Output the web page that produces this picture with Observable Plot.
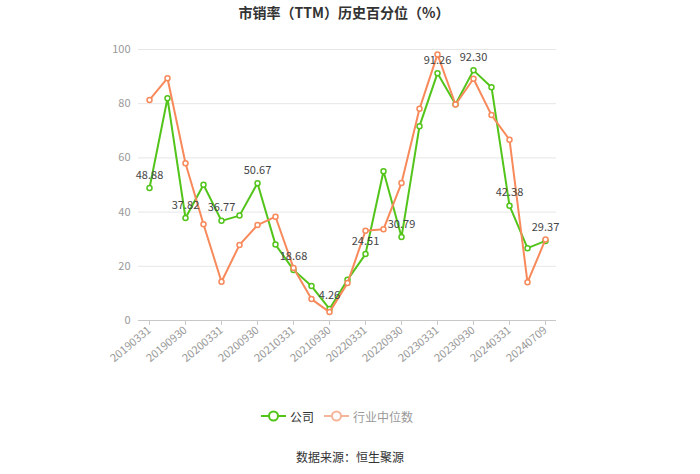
<!DOCTYPE html>
<html>
<head>
<meta charset="utf-8">
<script src="https://cdn.jsdelivr.net/npm/d3@7"></script>
<script src="https://cdn.jsdelivr.net/npm/@observablehq/plot@0.6"></script>
<style>
  html, body { margin: 0; padding: 0; background: #fff; }
  body { width: 700px; height: 474px; overflow: hidden; font-family: "Noto Sans CJK SC", "Noto Sans", sans-serif; }
  #title { height: 30px; line-height: 24px; text-align: center; font-size: 14px; font-weight: bold; color: #333; padding-right: 12px; }
  #chart { height: 350px; }
  #legend { margin-top: 24px; height: 24px; display: flex; justify-content: center; align-items: center; font-size: 12px; padding-right: 26px; }
  .item { display: flex; align-items: center; margin: 0 5px; }
  .item svg { margin-right: 4px; }
  #caption { margin-top: 17px; height: 24px; line-height: 24px; text-align: center; font-size: 12px; color: #333; }
</style>
</head>
<body>
<div id="title">市销率（TTM）历史百分位（%）</div>
<div id="chart"></div>
<div id="legend"></div>
<div id="caption">数据来源：恒生聚源</div>
<script>
const dates = ["20190331","20190630","20190930","20191231","20200331","20200630","20200930","20201231",
  "20210331","20210630","20210930","20211231","20220331","20220630","20220930","20221231",
  "20230331","20230630","20230930","20231231","20240331","20240630","20240709"];
const company = [48.88, 82.0, 37.82, 50.1, 36.77, 38.7, 50.67, 28.0, 18.68, 12.7, 4.26, 15.0,
  24.51, 55.1, 30.79, 71.7, 91.26, 79.8, 92.30, 86.1, 42.38, 26.7, 29.37];
const industry = [81.4, 89.4, 58.0, 35.5, 14.3, 27.9, 35.2, 38.3, 19.4, 7.9, 3.1, 13.8,
  33.1, 33.7, 50.7, 78.1, 98.2, 79.7, 89.2, 75.8, 66.7, 14.1, 29.9];
const tickLabels = ["20190331","20190930","20200331","20200930","20210331","20210930",
  "20220331","20220930","20230331","20230930","20240331","20240709"];
const yTicks = [0, 20, 40, 60, 80, 100];
const seriesNames = ["公司", "行业中位数"];

const green = "#52c41a";
const orange = "#f7895a";

const rows = dates.map((d, i) => ({date: d, company: company[i], industry: industry[i]}));
const labeled = rows.filter(r => tickLabels.includes(r.date));

const chart = Plot.plot({
  width: 700,
  height: 350,
  marginLeft: 138,
  marginRight: 144,
  marginTop: 19,
  marginBottom: 60,
  style: {fontFamily: "'Noto Sans CJK SC', 'Noto Sans', sans-serif", fontSize: "11px", background: "#fff"},
  x: {type: "point", domain: dates, padding: 0.5},
  y: {domain: [0, 100]},
  marks: [
    Plot.gridY(yTicks.filter(t => t > 0), {stroke: "#e6e6e6", strokeOpacity: 1}),
    Plot.axisY(yTicks, {tickSize: 0, tickPadding: 8, label: null, fill: "#999", fontSize: 11}),
    Plot.ruleY([0], {stroke: "#c8c8c8"}),
    Plot.axisX(tickLabels, {tickRotate: -40, tickSize: 5, tickPadding: 3, label: null, stroke: "#c8c8c8", fill: "#999", fontSize: 11}),
    Plot.line(rows, {x: "date", y: "company", stroke: green, strokeWidth: 2}),
    Plot.dot(rows, {x: "date", y: "company", r: 2.5, stroke: green, strokeWidth: 1.5, fill: "#fff"}),
    Plot.line(rows, {x: "date", y: "industry", stroke: orange, strokeWidth: 2}),
    Plot.dot(rows, {x: "date", y: "industry", r: 2.5, stroke: orange, strokeWidth: 1.5, fill: "#fff"}),
    Plot.text(labeled, {x: "date", y: "company", text: d => d.company.toFixed(2), dy: -13, fill: "#444", fontSize: 11})
  ]
});
document.getElementById("chart").appendChild(chart);

const legend = document.getElementById("legend");
const legendSpecs = [
  {name: seriesNames[0], color: green, text: "#333"},
  {name: seriesNames[1], color: "#f5b59b", text: "#999"}
];
for (const s of legendSpecs) {
  const el = document.createElement("div");
  el.className = "item";
  el.innerHTML = `<svg width="25" height="14"><line x1="0" y1="7" x2="25" y2="7" stroke="${s.color}" stroke-width="2"/><circle cx="12.5" cy="7" r="4.5" fill="#fff" stroke="${s.color}" stroke-width="2"/></svg><span style="color:${s.text}">${s.name}</span>`;
  legend.appendChild(el);
}
</script>
</body>
</html>
